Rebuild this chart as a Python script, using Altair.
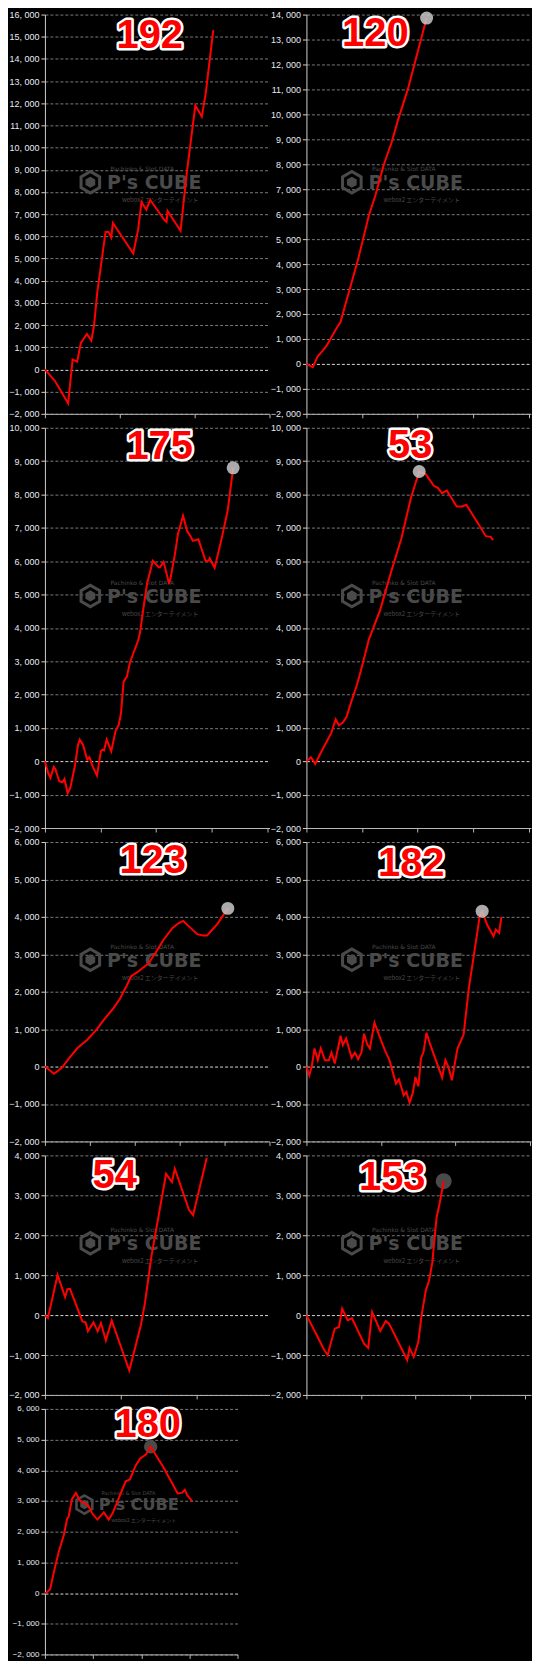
import altair as alt
import pandas as pd

# ---------------- data ----------------
labels = ["192", "120", "175", "53", "123", "182", "54", "153", "180"]

a_x = [0, 0.13, 0.31, 0.37, 0.43, 0.48, 0.56, 0.62, 0.655, 0.70, 0.81, 0.85, 0.886, 0.908, 1.18,
       1.245, 1.29, 1.354, 1.406, 1.594, 1.625, 1.638, 1.812, 1.856, 1.90, 2.009, 2.096, 2.148, 2.249]
a_y = [0, -500, -1530, 450, 350, 1200, 1600, 1300, 1950, 3500, 6200, 6200, 5950, 6600, 5230,
       6300, 7550, 7200, 7650, 6750, 6650, 7150, 6250, 7650, 9000, 11900, 11400, 12450, 15300]

b_x = [0, 0.117, 0.2, 0.293, 0.363, 0.48, 0.568, 0.61, 0.92, 1.008, 1.125, 1.242, 1.388, 1.535,
       1.652, 1.828, 1.974, 2.162]
b_y = [0, -130, 290, 530, 730, 1190, 1525, 1660, 4110, 4900, 5970, 6760, 7960, 8890,
       9810, 11030, 12270, 13860]

c_x = [0, 0.058, 0.099, 0.158, 0.187, 0.257, 0.316, 0.351, 0.409, 0.456, 0.538, 0.596, 0.626,
       0.684, 0.760, 0.801, 0.860, 0.936, 1.006, 1.035, 1.064, 1.111, 1.193, 1.269, 1.327, 1.368,
       1.415, 1.474, 1.532, 1.678, 1.708, 1.766, 1.836, 1.883, 1.942, 2.047, 2.070, 2.135, 2.234,
       2.263, 2.339, 2.392, 2.485, 2.556, 2.614, 2.661, 2.760, 2.889, 2.947, 2.965, 3.053, 3.170,
       3.287, 3.386]
c_y = [0, -350, -500, -170, -230, -600, -630, -530, -960, -800, -150, 500, 650,
       500, 50, 120, -150, -430, 300, 350, 330, 650, 300, 900, 1090, 1440,
       2390, 2540, 2980, 3630, 3830, 4520, 5320, 5620, 6010, 5820, 5820, 5980, 5320,
       5520, 6210, 6810, 7360, 6910, 6760, 6610, 6660, 6010, 6010, 6090, 5800, 6610,
       7510, 8800]

d_x = [0, 0.082, 0.158, 0.246, 0.450, 0.526, 0.585, 0.655, 0.725, 0.801, 0.901, 0.977, 1.123,
       1.327, 1.532, 1.708, 1.883, 2.029, 2.146, 2.292, 2.363, 2.439, 2.526, 2.702, 2.801, 2.877,
       3.111, 3.228, 3.316, 3.357]
d_y = [0, 120, -80, 220, 860, 1260, 1080, 1160, 1340, 1760, 2250, 2700, 3650,
       4540, 5730, 6680, 7920, 8690, 8610, 8260, 8200, 8040, 8120, 7640, 7640, 7690,
       7070, 6750, 6730, 6630]

e_x = [0, 0.203, 0.377, 0.543, 0.725, 0.942, 1.145, 1.341, 1.522, 1.667, 1.797, 1.920, 2.065,
       2.174, 2.304, 2.464, 2.645, 2.841, 2.971, 3.080, 3.188, 3.391, 3.514, 3.609, 3.710, 3.841,
       4.072]
e_y = [0, -195, -35, 230, 495, 716, 981, 1291, 1556, 1804, 2104, 2414, 2529,
       2635, 2750, 3042, 3395, 3705, 3828, 3890, 3766, 3537, 3501, 3501, 3634, 3811,
       4226]

f_x = [0, 0.039, 0.074, 0.109, 0.153, 0.193, 0.249, 0.302, 0.337, 0.381, 0.460, 0.490, 0.534,
       0.608, 0.652, 0.696, 0.740, 0.775, 0.818, 0.853, 0.915, 0.993, 1.059, 1.116, 1.204, 1.243,
       1.309, 1.344, 1.387, 1.431, 1.466, 1.505, 1.540, 1.575, 1.615, 1.659, 1.825, 1.869, 1.912,
       1.956, 2.031, 2.114, 2.184, 2.263, 2.328, 2.363, 2.429, 2.516, 2.547, 2.591, 2.621]
f_y = [0, -233, 36, 483, 170, 483, 170, 170, 376, 81, 823, 573, 752,
       233, 376, 197, 376, 877, 591, 483, 1172, 752, 421, 170, -456, -340,
       -770, -680, -966, -698, -277, -528, 215, 394, 904, 617, -295, 170, -27,
       -367, 483, 859, 2094, 3123, 3991, 4152, 3794, 3481, 3660, 3570, 3991]

g_x = [0, 0.039, 0.167, 0.266, 0.296, 0.330, 0.494, 0.536, 0.567, 0.639, 0.695, 0.738, 0.803,
       0.880, 1.112, 1.266, 1.318, 1.403, 1.511, 1.597, 1.674, 1.712, 1.897, 1.953, 2.133]
g_y = [0, -75, 1006, 449, 648, 657, -158, -183, -407, -183, -407, -200, -632,
       -133, -1388, -241, 299, 1463, 2627, 3541, 3333, 3666, 2643, 2502, 3940]

h_x = [0, 0.190, 0.310, 0.387, 0.518, 0.595, 0.655, 0.756, 0.833, 1.054, 1.131, 1.202, 1.351,
       1.452, 1.512, 1.589, 1.845, 1.887, 1.964, 2.048, 2.107, 2.185, 2.244, 2.304, 2.381, 2.440,
       2.512]
h_y = [0, -506, -838, -1004, -340, -299, 158, -133, -75, -714, -822, 75, -398,
       -149, -216, -423, -1129, -822, -1046, -672, -8, 614, 863, 1320, 2440, 2813,
       3353]

i_x = [0, 0.054, 0.108, 0.189, 0.291, 0.392, 0.459, 0.493, 0.561, 0.642, 0.730, 0.899, 0.980,
       1.088, 1.223, 1.324, 1.405, 1.676, 1.764, 1.878, 1.980, 2.101, 2.196, 2.318, 2.466, 2.757,
       2.845, 2.905, 2.959, 3.061]
i_y = [0, 41, 123, 706, 1371, 1882, 2414, 2496, 3059, 3263, 3008, 2854, 2598,
       2394, 2629, 2394, 2598, 3642, 3703, 4133, 4389, 4522, 4767, 4460, 4082, 3243,
       3263, 3366, 3182, 2987]

# index of the highlighted point in each series (None = no marker)
marker_index = [None, 17, 53, 17, 26, 45, None, 26, 22]
marker_kind = [None, "light", "light", "light", "light", "light", None, "dark", "dark"]

y_ranges = [(-2000, 16000), (-2000, 14000), (-2000, 10000), (-2000, 10000),
            (-2000, 6000), (-2000, 6000), (-2000, 4000), (-2000, 4000), (-2000, 6000)]
x_max = [3.0, 4.04, 4.04, 4.04, 5.0, 3.02, 2.96, 4.11, 4.0]

# ---------------- styling ----------------
RED = "#ff0000"
WM = "#4a4a4a"
LABEL_FONT = "Liberation Sans"
TITLE_FONT = "Liberation Sans"
HEX = ("M0,-1L0.866,-0.5L0.866,0.5L0,1L-0.866,0.5L-0.866,-0.5Z"
       "M0,-0.72L-0.624,-0.36L-0.624,0.36L0,0.72L0.624,0.36L0.624,-0.36Z"
       "M0,-0.45L0.39,-0.225L0.39,0.225L0,0.45L-0.39,0.225L-0.39,-0.225Z")

PW = 225
sizes = [(PW, 400), (PW, 400), (PW, 401), (PW, 401), (PW, 300), (PW, 300),
         (PW, 240), (PW, 240), (193, 246)]
title_pos = [(105, 18), (69, 16), (115, 16), (104, 15), (108, 16), (105, 19),
             (70, 18), (86, 20), (103, 13)]

series = [(a_x, a_y), (b_x, b_y), (c_x, c_y), (d_x, d_y), (e_x, e_y), (f_x, f_y),
          (g_x, g_y), (h_x, h_y), (i_x, i_y)]

one = pd.DataFrame({"k": [0]})


def panel(k):
    xs, ys = series[k]
    df = pd.DataFrame({"i": list(range(len(xs))), "x": xs, "y": ys})
    w, h = sizes[k]
    ymin, ymax = y_ranges[k]
    sc = 0.85 if k == 8 else 1.0
    lab_size = 8 if k == 8 else 9

    xsc = alt.Scale(domain=[0, x_max[k]], nice=False, zero=False)
    ysc = alt.Scale(domain=[ymin, ymax], nice=False, zero=False)
    xaxis = alt.Axis(values=list(range(0, int(x_max[k]) + 1)), labels=False, grid=False,
                     domainColor="#b8b8b8", tickColor="#b8b8b8", tickSize=4, title=None)
    yaxis = alt.Axis(values=list(range(ymin, ymax + 1, 1000)),
                     labelExpr="replace(format(datum.value, ','), ',', ', ')",
                     labelOverlap=False, grid=True,
                     gridColor={"condition": {"test": "datum.value === 0", "value": "#d8d8d8"},
                                "value": "#7a7a7a"},
                     gridDash=[3, 2], gridWidth=1,
                     domainColor="#cfcfcf", tickColor="#cfcfcf", tickSize=4,
                     labelPadding=2, labelColor="#e6ecf5", labelFont=LABEL_FONT,
                     labelFontSize=lab_size, title=None)
    X = alt.X("x:Q", scale=xsc, axis=xaxis)
    Y = alt.Y("y:Q", scale=ysc, axis=yaxis)

    cx, cy = w / 2, h / 2
    layers = []
    layers.append(alt.Chart(one).mark_point(shape=HEX, filled=True, color=WM, opacity=1,
                                            size=(25 * sc) ** 2)
                  .encode(x=alt.value(cx - 67 * sc), y=alt.value(cy - 32 * sc)))
    layers.append(alt.Chart(one).mark_text(text="P's CUBE", font="DejaVu Sans", fontWeight="bold",
                                           fontSize=19 * sc, color=WM, align="center",
                                           baseline="middle")
                  .encode(x=alt.value(cx - 3 * sc), y=alt.value(cy - 31 * sc)))
    layers.append(alt.Chart(one).mark_text(text="Pachinko & Slot DATA", font="DejaVu Sans",
                                           fontSize=6 * sc, color=WM, align="center",
                                           baseline="middle")
                  .encode(x=alt.value(cx - 15 * sc), y=alt.value(cy - 45 * sc)))
    layers.append(alt.Chart(one).mark_text(text="webox2 エンターテイメント", font="Noto Sans CJK JP",
                                           fontSize=6 * sc, color=WM, align="center",
                                           baseline="middle")
                  .encode(x=alt.value(cx + 3 * sc), y=alt.value(cy - 14 * sc)))

    mi = marker_index[k]
    mdf = df.iloc[[mi]] if mi is not None else None
    if mi is not None and marker_kind[k] == "dark":
        layers.append(alt.Chart(mdf).mark_point(filled=True, color="#4a4a4a", opacity=1,
                                                size=256 if k == 7 else 180)
                      .encode(x=X, y=Y))

    layers.append(alt.Chart(df).mark_line(color=RED, strokeWidth=2)
                  .encode(x=X, y=Y, order="i:Q"))

    if mi is not None and marker_kind[k] == "light":
        layers.append(alt.Chart(mdf).mark_point(filled=True, color="#c8c8c8", opacity=0.85,
                                                size=169)
                      .encode(x=X, y=Y))

    tx, ty = title_pos[k]
    layers.append(alt.Chart(one).mark_text(text=labels[k], font=TITLE_FONT, fontWeight="bold",
                                           fontSize=40, color="white", stroke="white",
                                           strokeWidth=5, strokeJoin="round", align="center",
                                           baseline="alphabetic")
                  .encode(x=alt.value(tx), y=alt.value(ty + 15)))
    layers.append(alt.Chart(one).mark_text(text=labels[k], font=TITLE_FONT, fontWeight="bold",
                                           fontSize=40, color=RED, align="center",
                                           baseline="alphabetic")
                  .encode(x=alt.value(tx), y=alt.value(ty + 15)))

    return alt.layer(*layers).properties(width=w, height=h)


chart = (alt.concat(*[panel(k) for k in range(9)], columns=2,
                    spacing={"row": 14, "column": 37}, bounds="flush")
         .properties(padding=0, background="#000000")
         .configure_view(stroke="transparent"))

chart.save("out.html", embed_options={"renderer": "svg", "actions": False})
